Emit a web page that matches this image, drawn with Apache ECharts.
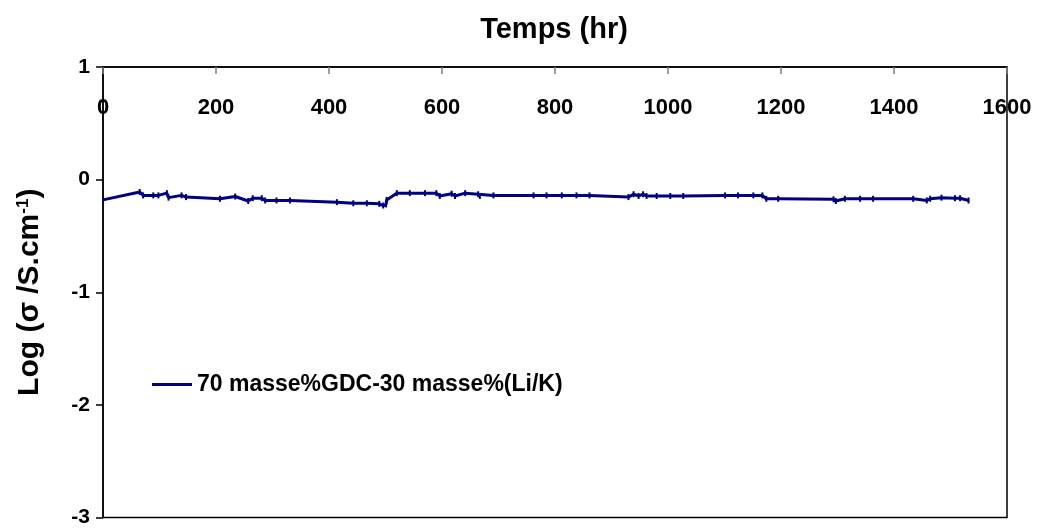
<!DOCTYPE html>
<html>
<head>
<meta charset="utf-8">
<script src="https://cdn.jsdelivr.net/npm/echarts@6/dist/echarts.min.js"></script>
<style>html,body{margin:0;padding:0;background:#fff;}#c{width:1040px;height:528px;}</style>
</head>
<body>
<div id="c"></div>
<script>
var hours = [0,65,71,89,98,113,116,139,147,207,234,257,265,281,287,307,331,414,443,467,489,496,501,502,520,543,570,590,596,617,623,641,664,667,691,762,785,812,838,861,930,939,948,956,962,980,1004,1027,1101,1124,1151,1167,1174,1195,1293,1297,1313,1340,1363,1434,1458,1464,1484,1508,1517,1532];
var logSigma = [-0.18,-0.11,-0.14,-0.14,-0.14,-0.12,-0.16,-0.14,-0.155,-0.17,-0.15,-0.19,-0.165,-0.165,-0.185,-0.185,-0.185,-0.2,-0.21,-0.21,-0.215,-0.23,-0.22,-0.18,-0.12,-0.12,-0.12,-0.12,-0.145,-0.125,-0.145,-0.12,-0.13,-0.145,-0.14,-0.14,-0.14,-0.14,-0.14,-0.14,-0.155,-0.13,-0.145,-0.13,-0.145,-0.145,-0.145,-0.145,-0.14,-0.14,-0.14,-0.14,-0.17,-0.17,-0.175,-0.19,-0.17,-0.17,-0.17,-0.17,-0.185,-0.17,-0.16,-0.165,-0.165,-0.185];
var seriesName = '70 masse%GDC-30 masse%(Li/K)';
var xTitle = 'Temps (hr)';
var yTitle = '{n|Log (σ /S.cm}{s|-1}{n|)}';

var data = hours.map(function(h, i){ return [h, logSigma[i]]; });
var FONT = '"Liberation Sans", Arial, sans-serif';
var chart = echarts.init(document.getElementById('c'));
chart.setOption({
  animation: false,
  backgroundColor: '#fff',
  title: {
    text: xTitle, left: 549, top: 10, textAlign: 'center',
    textStyle: {fontFamily: FONT, fontWeight: 'bold', fontSize: 29, color: '#000'}
  },
  legend: {
    left: 147, top: 368, itemWidth: 40, itemHeight: 10, itemGap: 7,
    icon: 'path://M0,3.5 L40,3.5 L40,6.5 L0,6.5 Z',
    data: [seriesName],
    textStyle: {fontFamily: FONT, fontWeight: 'bold', fontSize: 23, color: '#000'}
  },
  grid: {left: 103, right: 33, top: 67, bottom: 9, show: true, borderColor: '#000', borderWidth: 1.5, backgroundColor: '#fff'},
  xAxis: {
    type: 'value', position: 'top', min: 0, max: 1600, interval: 200,
    axisLine: {show: true, onZero: false, lineStyle: {color: '#000', width: 1.5}},
    axisTick: {show: true, inside: true, length: 7, lineStyle: {color: '#808080', width: 1.5}},
    axisLabel: {inside: true, margin: 30, showMinLabel: true, showMaxLabel: true,
      formatter: function(v){ return String(v); },
      fontFamily: FONT, fontWeight: 'bold', fontSize: 22, color: '#000'},
    splitLine: {show: false}
  },
  yAxis: {
    type: 'value', min: -3, max: 1, interval: 1,
    name: yTitle, nameLocation: 'middle', nameGap: 58, nameRotate: 90,
    nameTextStyle: {
      rich: {
        n: {fontFamily: FONT, fontWeight: 'bold', fontSize: 30, color: '#000'},
        s: {fontFamily: FONT, fontWeight: 'bold', fontSize: 17, color: '#000', verticalAlign: 'top', padding: [0,0,12,0]}
      }
    },
    axisLine: {show: true, lineStyle: {color: '#000', width: 1.5}},
    axisTick: {show: true, length: 7, lineStyle: {color: '#000', width: 1.5}},
    axisLabel: {margin: 13, fontFamily: FONT, fontWeight: 'bold', fontSize: 21, color: '#000'},
    splitLine: {show: false}
  },
  series: [{
    name: seriesName, type: 'line', data: data,
    lineStyle: {color: '#000080', width: 3},
    itemStyle: {color: '#000080'},
    symbol: 'rect', symbolSize: [2, 6], showSymbol: true
  }]
});
</script>
</body>
</html>
